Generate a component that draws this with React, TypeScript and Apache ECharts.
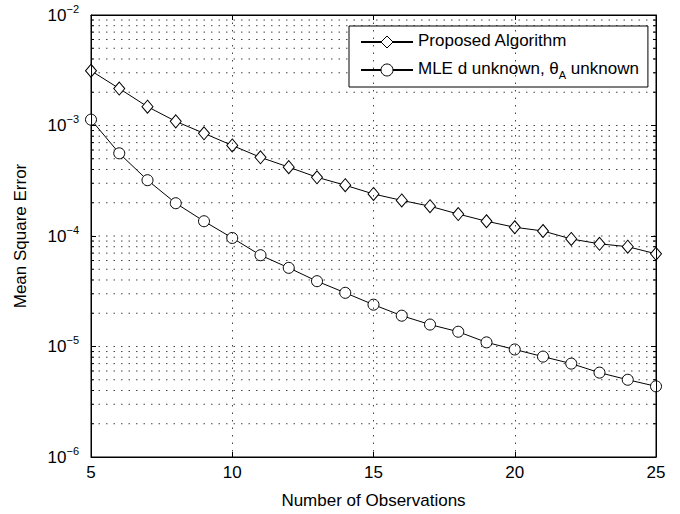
import React, { useEffect, useRef } from "react";
import * as echarts from "echarts";

const observations = [5, 6, 7, 8, 9, 10, 11, 12, 13, 14, 15, 16, 17, 18, 19, 20, 21, 22, 23, 24, 25];
const proposed = [
  3.13e-3, 2.16e-3, 1.48e-3, 1.09e-3, 8.5e-4, 6.6e-4, 5.15e-4, 4.2e-4, 3.4e-4, 2.88e-4, 2.4e-4,
  2.1e-4, 1.86e-4, 1.58e-4, 1.36e-4, 1.2e-4, 1.11e-4, 9.4e-5, 8.5e-5, 8.0e-5, 6.9e-5,
];
const mle = [
  1.13e-3, 5.6e-4, 3.2e-4, 1.98e-4, 1.36e-4, 9.6e-5, 6.7e-5, 5.15e-5, 3.9e-5, 3.06e-5, 2.39e-5,
  1.9e-5, 1.58e-5, 1.36e-5, 1.09e-5, 9.4e-6, 8.1e-6, 7.0e-6, 5.8e-6, 5.0e-6, 4.36e-6,
];
const seriesNames = ["Proposed Algorithm", "MLE d unknown, θA unknown"];
const decades = [-6, -5, -4, -3];
const mantissas = [1, 2, 3, 4, 5, 6, 7, 8, 9];
const xRange = [5, 25];

const FONT = "Liberation Sans, Arial, Helvetica, sans-serif";

export default function App() {
  const ref = useRef<HTMLDivElement>(null);
  useEffect(() => {
    document.body.style.margin = "0";
    const chart = echarts.init(ref.current!, null, { renderer: "svg" });
    const gridVals: { v: number; minor: boolean }[] = [];
    decades.forEach((d) =>
      mantissas.forEach((m) => {
        if (!(d === -6 && m === 1)) gridVals.push({ v: m * Math.pow(10, d), minor: m !== 1 });
      })
    );
    const dotted = { type: [1.5, 6] as any, color: "#444", width: 1 };
    const axisLine = () => ({ show: true, onZero: false, lineStyle: { color: "#000", width: 1 } });
    const tick = () => ({ show: true, inside: true, length: 5, lineStyle: { color: "#000" } });
    const gridSeries = gridVals.map((g) => ({
      name: "g" + g.v,
      type: "line",
      silent: true,
      z: 1,
      symbol: g.minor ? "rect" : "none",
      symbolSize: [3, 1],
      showSymbol: g.minor,
      itemStyle: { color: "#000" },
      data: [
        { value: [xRange[0], g.v], symbolOffset: [1.5, 0] },
        { value: [xRange[1], g.v], symbolOffset: [-1.5, 0] },
      ],
      lineStyle: dotted,
      emphasis: { disabled: true },
      tooltip: { show: false },
    }));
    chart.setOption({
      animation: false,
      backgroundColor: "#fff",
      textStyle: { fontFamily: FONT },
      grid: {
        left: 91,
        top: 15,
        right: 24,
        bottom: 55,
        containLabel: false,
        show: true,
        borderColor: "#000",
        borderWidth: 1,
        backgroundColor: "transparent",
      },
      legend: {
        data: seriesNames,
        orient: "vertical",
        left: 349,
        top: 26,
        padding: [6, 9, 7, 11],
        itemGap: 10,
        itemWidth: 52,
        itemHeight: 15,
        backgroundColor: "#fff",
        borderColor: "#000",
        borderWidth: 1,
        borderRadius: 0,
        itemStyle: { borderWidth: 1 },
        formatter: (name: string) =>
          name === seriesNames[1] ? "{b|MLE d unknown, θ}{sub|A}{b| unknown}" : "{b|" + name + "}",
        textStyle: {
          color: "#000",
          fontFamily: FONT,
          fontSize: 17,
          rich: {
            b: { fontSize: 17, lineHeight: 20, verticalAlign: "top", color: "#000", fontFamily: FONT },
            sub: { fontSize: 11, lineHeight: 14, padding: [10, 0, 0, 0], verticalAlign: "bottom", color: "#000", fontFamily: FONT },
          },
        },
      },
      xAxis: [
        {
          type: "value",
          min: 5,
          max: 25,
          interval: 5,
          position: "bottom",
          name: "Number of Observations",
          nameLocation: "middle",
          nameGap: 35,
          nameTextStyle: { fontSize: 17, color: "#000", fontFamily: FONT },
          axisLine: axisLine(),
          axisTick: tick(),
          axisLabel: { fontSize: 17, color: "#000", margin: 7, fontFamily: FONT },
          splitLine: { show: true, lineStyle: dotted },
          z: 5,
        },
        {
          type: "value",
          min: 5,
          max: 25,
          interval: 5,
          position: "top",
          axisLine: axisLine(),
          axisTick: tick(),
          axisLabel: { show: false },
          splitLine: { show: false },
          z: 5,
        },
      ],
      yAxis: [
        {
          type: "log",
          logBase: 10,
          min: 1e-6,
          max: 1e-2,
          splitNumber: 4,
          position: "left",
          name: "Mean Square Error",
          nameLocation: "middle",
          nameGap: 62,
          nameTextStyle: { fontSize: 17, color: "#000", fontFamily: FONT },
          axisLine: axisLine(),
          axisTick: tick(),
          splitLine: { show: false },
          z: 5,
          axisLabel: {
            margin: 12,
            formatter: (v: number) => {
              const e = Math.round(Math.log10(v));
              return "{b|10}{s|−" + -e + "}";
            },
            rich: {
              b: { fontSize: 17, lineHeight: 24, color: "#000", fontFamily: FONT },
              s: { fontSize: 11, lineHeight: 12, verticalAlign: "top", color: "#000", fontFamily: FONT },
            },
          },
        },
        {
          type: "log",
          logBase: 10,
          min: 1e-6,
          max: 1e-2,
          splitNumber: 4,
          position: "right",
          axisLine: axisLine(),
          axisTick: tick(),
          axisLabel: { show: false },
          splitLine: { show: false },
          z: 5,
        },
      ],
      series: [
        ...gridSeries,
        {
          name: seriesNames[0],
          type: "line",
          z: 3,
          data: observations.map((x, i) => [x, proposed[i]]),
          symbol: "diamond",
          symbolSize: [11, 13],
          lineStyle: { color: "#000", width: 1 },
          itemStyle: { color: "#fff", borderColor: "#000", borderWidth: 1 },
        },
        {
          name: seriesNames[1],
          type: "line",
          z: 3,
          data: observations.map((x, i) => [x, mle[i]]),
          symbol: "circle",
          symbolSize: 11,
          lineStyle: { color: "#000", width: 1 },
          itemStyle: { color: "#fff", borderColor: "#000", borderWidth: 1 },
        },
      ],
    });
    return () => chart.dispose();
  }, []);
  return <div ref={ref} style={{ width: 680, height: 514, position: "absolute", left: 0, top: 0 }} />;
}
